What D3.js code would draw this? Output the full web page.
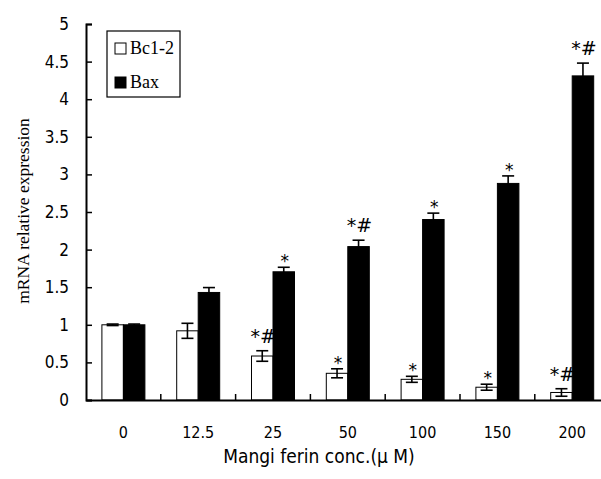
<!DOCTYPE html>
<html>
<head>
<meta charset="utf-8">
<script src="https://cdn.jsdelivr.net/npm/d3@7"></script>
<style>
  body { margin: 0; background: #fff; }
  svg { display: block; }
  .tick text { font-family: "Liberation Sans Narrow", "DejaVu Sans Condensed", sans-serif; }
</style>
</head>
<body>
<svg id="chart" width="601" height="479"></svg>
<script>
// Data
const concentrations = ['0', '12.5', '25', '50', '100', '150', '200'];
const seriesNames = ['Bc1-2', 'Bax'];
const bclValues = [1.0, 0.92, 0.585, 0.355, 0.275, 0.17, 0.10];
const bclErrors = [0.01, 0.10, 0.07, 0.06, 0.04, 0.04, 0.05];
const baxValues = [1.0, 1.43, 1.705, 2.04, 2.40, 2.88, 4.31];
const baxErrors = [0.01, 0.065, 0.06, 0.085, 0.085, 0.10, 0.17];
const bclMarks = ['', '', '*#', '*', '*', '*', '*#'];
const baxMarks = ['', '', '*', '*#', '*', '*', '*#'];
const yTicks = [0, 0.5, 1, 1.5, 2, 2.5, 3, 3.5, 4, 4.5, 5];

const svg = d3.select('#chart');
const margin = { left: 86, top: 24, bottom: 79 };
const height = 479;

// Scales
const x = d3.scaleBand()
    .domain(concentrations)
    .range([margin.left, margin.left + 7 * 74.8]);

const y = d3.scaleLinear()
    .domain([0, 5])
    .range([height - margin.bottom, margin.top]);

const barW = 21.5;

// One row per bar
const rows = concentrations.map((c, i) => ([
    { c, s: 0, v: bclValues[i], e: bclErrors[i], m: bclMarks[i] },
    { c, s: 1, v: baxValues[i], e: baxErrors[i], m: baxMarks[i] }
])).flat();

const bx = d => x(d.c) + x.bandwidth() / 2 + (d.s === 0 ? -barW : 0);

// Bars
svg.append('g')
    .selectAll('rect')
    .data(rows)
    .join('rect')
    .attr('x', bx)
    .attr('y', d => y(d.v))
    .attr('width', barW)
    .attr('height', d => y(0) - y(d.v))
    .attr('fill', d => d.s === 0 ? '#fff' : '#000')
    .attr('stroke', '#000')
    .attr('stroke-width', 1);

// Error bars (lower whisker only shows on the white bars)
const err = svg.append('g')
    .attr('stroke', '#000')
    .attr('stroke-width', 1.6);

err.selectAll('g')
    .data(rows)
    .join('g')
    .each(function (d) {
        const g = d3.select(this);
        const cx = bx(d) + barW / 2;
        const top = y(d.v + d.e);
        const bot = y(d.v - d.e);
        g.append('line').attr('x1', cx).attr('x2', cx).attr('y1', top).attr('y2', bot);
        g.append('line').attr('x1', cx - 6).attr('x2', cx + 6).attr('y1', top).attr('y2', top);
        if (d.s === 0) {
            g.append('line').attr('x1', cx - 6).attr('x2', cx + 6).attr('y1', bot).attr('y2', bot);
        }
    });

// Significance marks
svg.append('g')
    .selectAll('text')
    .data(rows.filter(d => d.m))
    .join('text')
    .attr('x', d => bx(d) + barW / 2 + 1)
    .attr('y', d => y(d.v + d.e) - (d.m === '*' ? 0 : 8))
    .attr('text-anchor', 'middle')
    .attr('font-family', '"DejaVu Sans", sans-serif')
    .attr('font-size', d => d.m === '*' ? '17px' : '19px')
    .text(d => d.m);

// Y axis
const yAxis = svg.append('g')
    .attr('transform', `translate(${margin.left},0)`)
    .call(d3.axisRight(y).tickValues(yTicks).tickSize(6).tickFormat(d3.format('')));
yAxis.select('.domain').attr('stroke-width', 2);
yAxis.selectAll('.tick line').attr('stroke-width', 1.5);
yAxis.selectAll('.tick text')
    .attr('x', -17)
    .attr('text-anchor', 'end')
    .attr('font-size', '17px')
    .attr('fill', '#000');

// X axis
const xAxis = svg.append('g')
    .attr('transform', `translate(0,${y(0)})`)
    .call(d3.axisTop(x).tickSize(0).tickSizeOuter(0));
xAxis.select('.domain').attr('stroke-width', 2);
xAxis.selectAll('.tick line').remove();
xAxis.selectAll('.tick text')
    .attr('y', 38)
    .attr('dy', 0)
    .attr('font-size', '16px')
    .attr('fill', '#000');

// Separator ticks between groups
svg.append('g')
    .selectAll('line')
    .data(concentrations.slice(1))
    .join('line')
    .attr('x1', d => x(d))
    .attr('x2', d => x(d))
    .attr('y1', y(0))
    .attr('y2', y(0) - 6)
    .attr('stroke', '#000')
    .attr('stroke-width', 1.5);

// Axis titles
svg.append('text')
    .attr('transform', `translate(29,${(y(0) + y(5)) / 2 - 1}) rotate(-90)`)
    .attr('text-anchor', 'middle')
    .attr('font-family', '"Liberation Serif", "Times New Roman", serif')
    .attr('font-size', '17.5px')
    .text('mRNA relative expression');

svg.append('text')
    .attr('x', 319)
    .attr('y', 463)
    .attr('text-anchor', 'middle')
    .attr('font-family', '"Liberation Sans Narrow", "DejaVu Sans Condensed", sans-serif')
    .attr('font-size', '19px')
    .text('Mangi ferin conc.(\u03bc M)');

// Legend
const legend = svg.append('g').attr('transform', 'translate(107,31)');
legend.append('rect')
    .attr('width', 73)
    .attr('height', 66)
    .attr('fill', '#fff')
    .attr('stroke', '#000')
    .attr('stroke-width', 1.2);

const items = legend.selectAll('.item')
    .data(seriesNames)
    .join('g')
    .attr('class', 'item')
    .attr('transform', (d, i) => `translate(8,${12 + i * 34})`);

items.append('rect')
    .attr('width', 11)
    .attr('height', 11)
    .attr('fill', (d, i) => i === 0 ? '#fff' : '#000')
    .attr('stroke', '#000')
    .attr('stroke-width', 1);

items.append('text')
    .attr('x', 15)
    .attr('y', 11)
    .attr('font-family', '"Liberation Serif", "Times New Roman", serif')
    .attr('font-size', '18px')
    .text(d => d);
</script>
</body>
</html>
